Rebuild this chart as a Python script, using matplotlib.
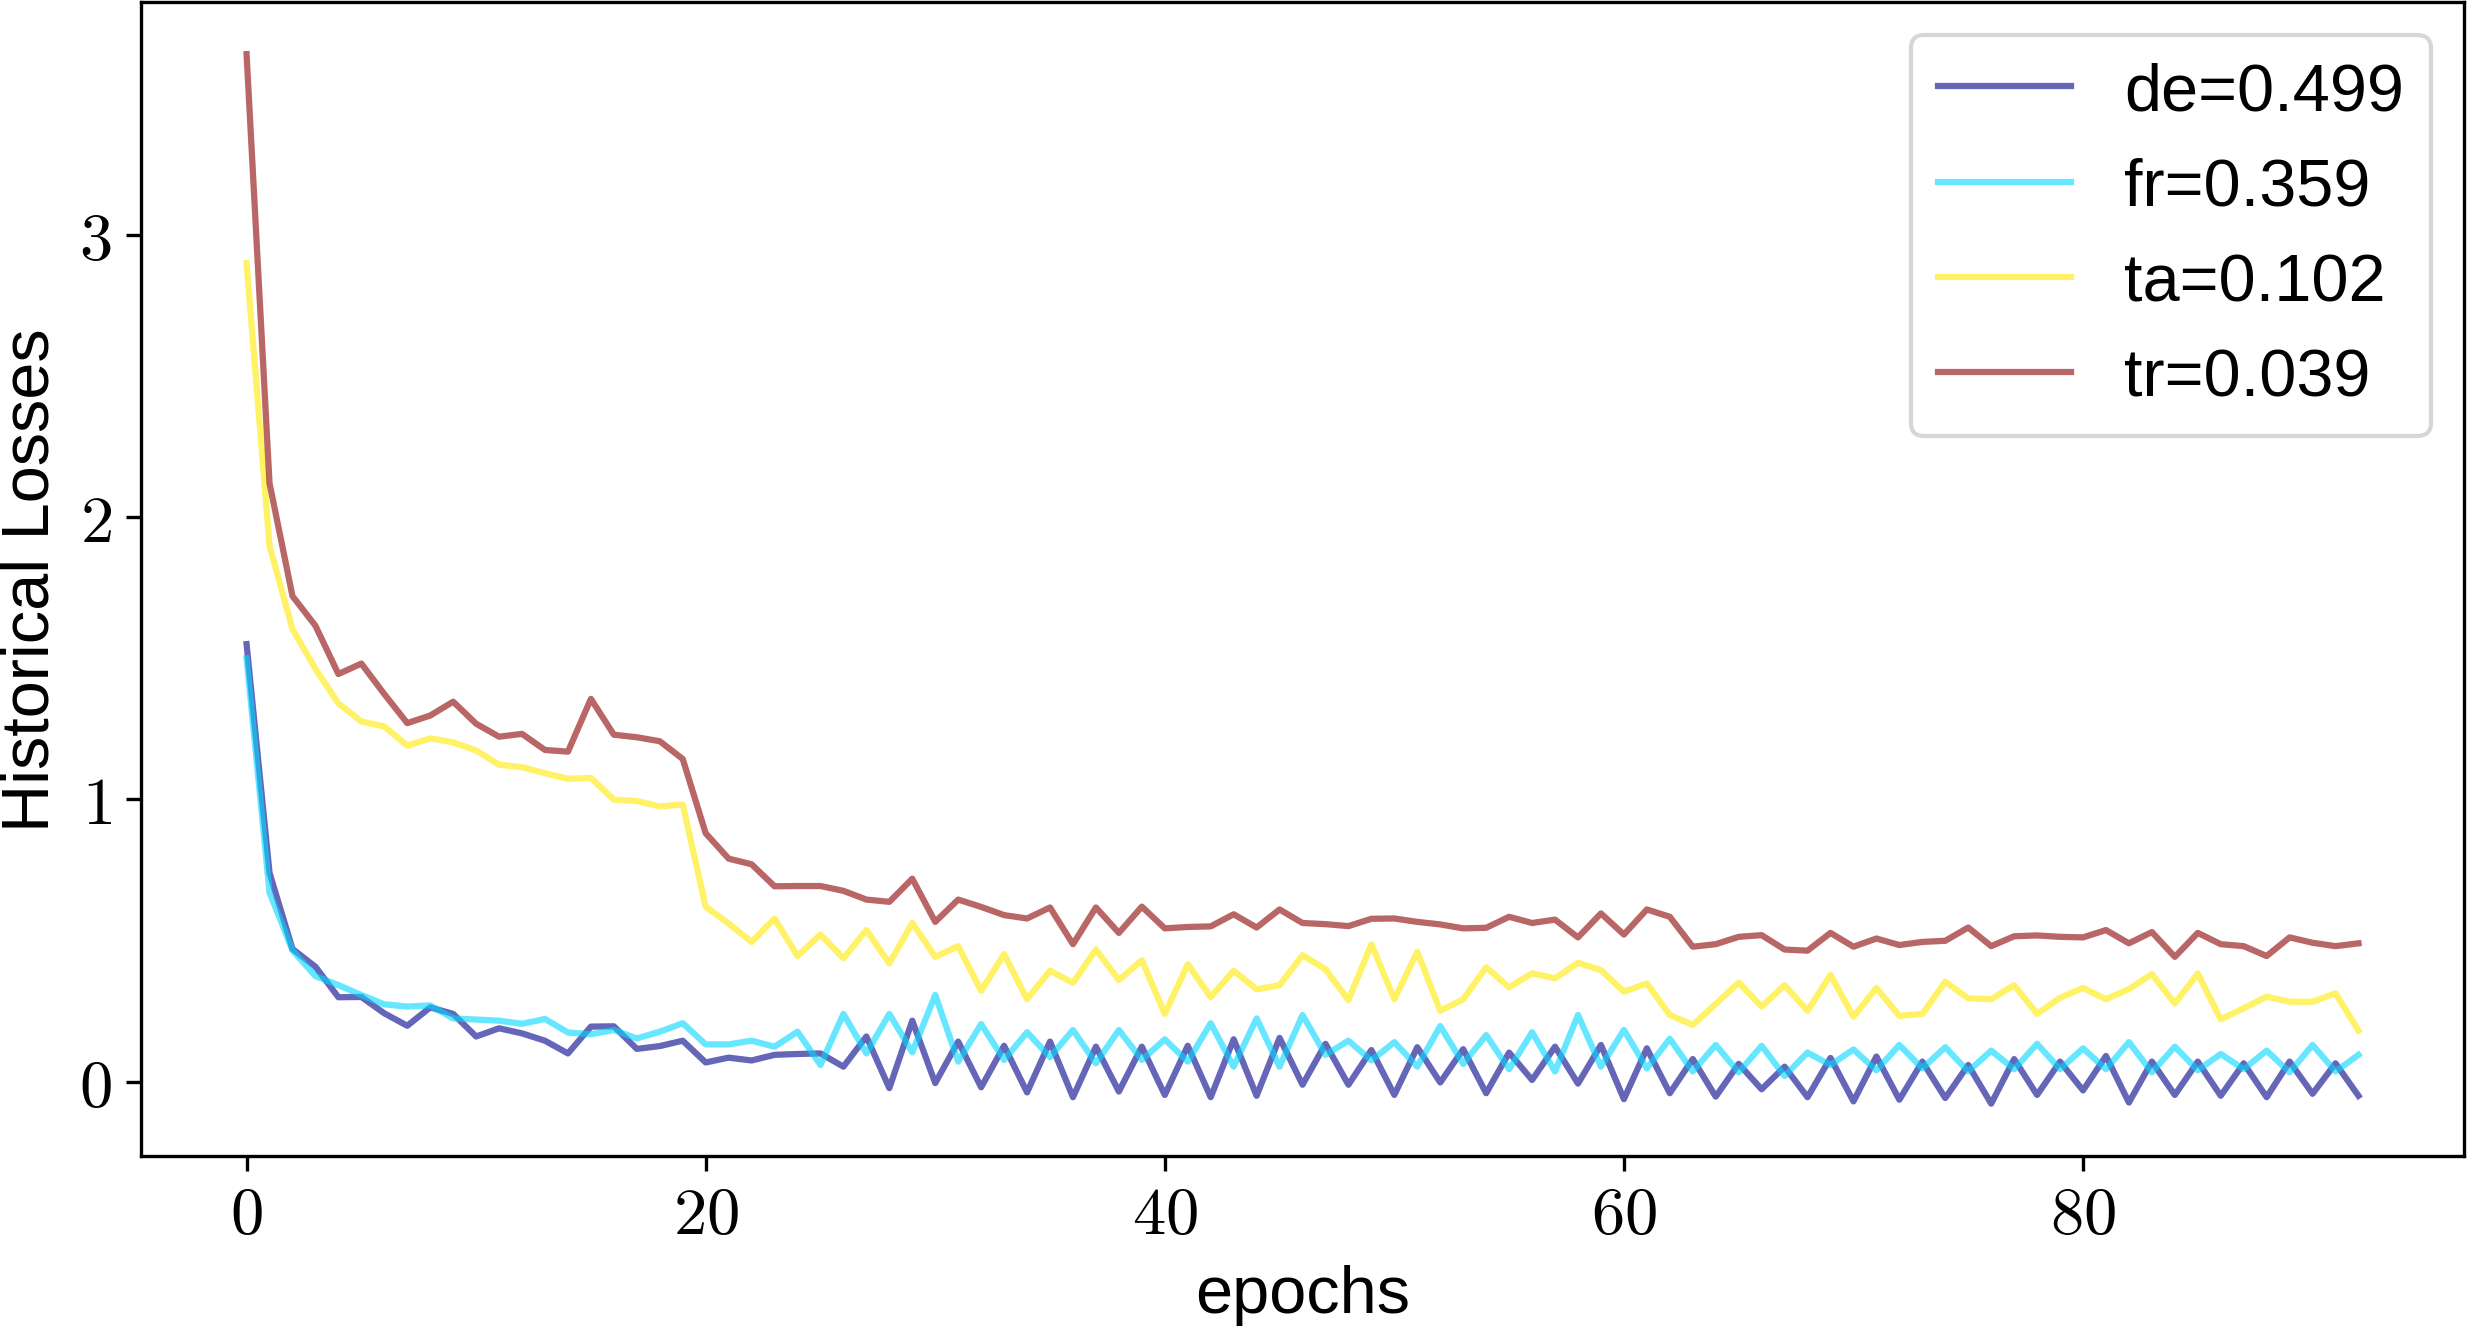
import matplotlib
matplotlib.use("Agg")
import matplotlib.pyplot as plt
from matplotlib.ticker import FuncFormatter

plt.rcParams['mathtext.fontset'] = 'cm'
plt.rcParams['font.family'] = ['Liberation Sans', 'DejaVu Sans']

# loss per epoch
de = [1.55, 0.74, 0.47, 0.407, 0.299, 0.30, 0.242, 0.198, 0.263, 0.24,
      0.16, 0.189, 0.171, 0.145, 0.10, 0.195, 0.196, 0.116, 0.126, 0.145,
      0.068, 0.085, 0.075, 0.095, 0.098, 0.10, 0.053, 0.16, -0.023, 0.216,
      -0.005, 0.142, -0.02, 0.127, -0.038, 0.142, -0.055, 0.124, -0.035, 0.124,
      -0.047, 0.127, -0.055, 0.15, -0.05, 0.155, -0.011, 0.134, -0.011, 0.112,
      -0.047, 0.122, -0.003, 0.115, -0.041, 0.103, 0.006, 0.124, -0.007, 0.13,
      -0.062, 0.118, -0.041, 0.08, -0.053, 0.063, -0.027, 0.053, -0.055, 0.084,
      -0.07, 0.089, -0.064, 0.071, -0.058, 0.059, -0.078, 0.08, -0.047, 0.071,
      -0.031, 0.091, -0.074, 0.071, -0.047, 0.071, -0.05, 0.065, -0.055, 0.071,
      -0.043, 0.065, -0.05]
fr = [1.50, 0.67, 0.465, 0.374, 0.342, 0.307, 0.274, 0.266, 0.27, 0.224,
      0.22, 0.216, 0.205, 0.222, 0.174, 0.168, 0.183, 0.153, 0.177, 0.207,
      0.132, 0.132, 0.145, 0.124, 0.177, 0.059, 0.24, 0.10, 0.24, 0.104,
      0.307, 0.071, 0.204, 0.077, 0.175, 0.087, 0.183, 0.065, 0.183, 0.077,
      0.15, 0.071, 0.207, 0.053, 0.224, 0.053, 0.236, 0.095, 0.145, 0.075,
      0.14, 0.053, 0.197, 0.063, 0.165, 0.044, 0.175, 0.036, 0.236, 0.053,
      0.183, 0.047, 0.152, 0.036, 0.13, 0.033, 0.127, 0.02, 0.103, 0.059,
      0.114, 0.04, 0.13, 0.047, 0.122, 0.036, 0.11, 0.044, 0.134, 0.044,
      0.118, 0.044, 0.14, 0.033, 0.124, 0.04, 0.098, 0.044, 0.11, 0.033,
      0.13, 0.036, 0.095]
ta = [2.90, 1.898, 1.603, 1.462, 1.34, 1.276, 1.258, 1.19, 1.216, 1.202,
      1.173, 1.123, 1.114, 1.093, 1.073, 1.076, 0.999, 0.994, 0.975, 0.982,
      0.62, 0.56, 0.495, 0.578, 0.445, 0.521, 0.437, 0.537, 0.419, 0.562,
      0.442, 0.48, 0.322, 0.452, 0.292, 0.393, 0.35, 0.468, 0.36, 0.43,
      0.24, 0.416, 0.30, 0.393, 0.327, 0.342, 0.448, 0.398, 0.289, 0.487,
      0.292, 0.46, 0.251, 0.292, 0.405, 0.334, 0.384, 0.366, 0.421, 0.395,
      0.319, 0.348, 0.236, 0.201, 0.275, 0.351, 0.266, 0.342, 0.251, 0.378,
      0.23, 0.332, 0.233, 0.24, 0.354, 0.295, 0.292, 0.342, 0.24, 0.297,
      0.332, 0.292, 0.328, 0.381, 0.277, 0.383, 0.221, 0.26, 0.301, 0.283,
      0.283, 0.313, 0.181]
tr = [3.64, 2.12, 1.72, 1.615, 1.444, 1.481, 1.373, 1.27, 1.297, 1.346,
      1.268, 1.222, 1.232, 1.175, 1.169, 1.356, 1.229, 1.22, 1.206, 1.143,
      0.88, 0.79, 0.77, 0.692, 0.693, 0.693, 0.676, 0.645, 0.637, 0.719,
      0.566, 0.645, 0.619, 0.59, 0.578, 0.617, 0.487, 0.617, 0.527, 0.62,
      0.543, 0.548, 0.55, 0.593, 0.546, 0.61, 0.562, 0.558, 0.551, 0.577,
      0.578, 0.566, 0.557, 0.543, 0.545, 0.584, 0.562, 0.574, 0.511, 0.596,
      0.521, 0.61, 0.584, 0.478, 0.487, 0.513, 0.519, 0.468, 0.464, 0.527,
      0.478, 0.507, 0.484, 0.495, 0.499, 0.546, 0.48, 0.515, 0.518, 0.513,
      0.511, 0.537, 0.49, 0.53, 0.442, 0.527, 0.487, 0.48, 0.445, 0.511,
      0.492, 0.48, 0.49]

labels = ["de=0.499", "fr=0.359", "ta=0.102", "tr=0.039"]
colors = ["darkblue", "#00d8ff", "#ffea00", "darkred"]

fig = plt.figure(figsize=(2469 / 300, 1327 / 300), dpi=300)
ax = fig.add_axes([0.0571, 0.128, 0.9409, 0.870])

for series, label, color in zip([de, fr, ta, tr], labels, colors):
    ax.plot(range(len(series)), series, color=color, alpha=0.6, lw=1.5, label=label)

ax.set_xticks([0, 20, 40, 60, 80])
ax.set_yticks([0, 1, 2, 3])
fmt = FuncFormatter(lambda v, p: r"$%d$" % v)
ax.xaxis.set_major_formatter(fmt)
ax.yaxis.set_major_formatter(fmt)
ax.tick_params(labelsize=16)

ax.set_xlabel("epochs", fontsize=16)
ax.set_ylabel("Historical Losses", fontsize=16)
ax.legend(loc="upper right", fontsize=16)

fig.savefig("out.png", dpi=300)
